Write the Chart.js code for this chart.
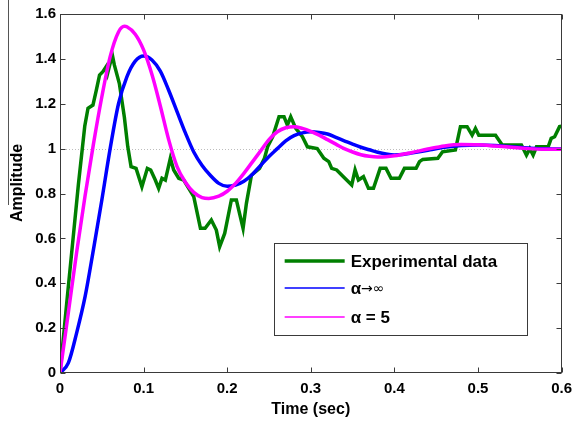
<!DOCTYPE html>
<html>
<head>
<meta charset="utf-8">
<script src="https://cdn.jsdelivr.net/npm/chart.js@4.4.1/dist/chart.umd.min.js"></script>
<style>
  html, body { margin: 0; padding: 0; background: #fff; }
  canvas { display: block; }
</style>
</head>
<body>
<canvas id="c" width="579" height="421"></canvas>
<script>
// Axis ticks
const xTicks = [0, 0.1, 0.2, 0.3, 0.4, 0.5, 0.6];
const xTickLabels = ['0', '0.1', '0.2', '0.3', '0.4', '0.5', '0.6'];
const yTicks = [0, 0.2, 0.4, 0.6, 0.8, 1, 1.2, 1.4, 1.6];
const yTickLabels = ['0', '0.2', '0.4', '0.6', '0.8', '1', '1.2', '1.4', '1.6'];
const refLevel = 1;

const seriesLabels = ['Experimental data', 'α→∞', 'α = 5'];

// Measured step response
const expTime = [0, 0.008, 0.022, 0.0296, 0.0335, 0.0394, 0.0434, 0.0473, 0.0513, 0.0552,
  0.057, 0.06, 0.063, 0.065, 0.071, 0.077, 0.081, 0.085, 0.091, 0.098,
  0.1045, 0.1085, 0.114, 0.118, 0.122, 0.126, 0.132, 0.136, 0.142, 0.148,
  0.154, 0.16, 0.168, 0.1736, 0.181, 0.187, 0.191, 0.197, 0.205, 0.211,
  0.219, 0.223, 0.229, 0.2387, 0.2446, 0.2485, 0.2544, 0.262, 0.268, 0.272,
  0.276, 0.282, 0.29, 0.296, 0.3077, 0.3156, 0.3215, 0.325, 0.331, 0.339,
  0.349, 0.353, 0.357, 0.363, 0.369, 0.375, 0.383, 0.39, 0.396, 0.406,
  0.412, 0.426, 0.43, 0.434, 0.452, 0.4576, 0.473, 0.479, 0.487, 0.493,
  0.497, 0.501, 0.521, 0.529, 0.552, 0.558, 0.562, 0.566, 0.57, 0.584,
  0.5876, 0.5917, 0.5976, 0.6];
const expAmp = [0, 0.31, 0.84, 1.10, 1.18, 1.194, 1.26, 1.328, 1.343, 1.365,
  1.336, 1.38, 1.41, 1.373, 1.29, 1.14, 1.01, 0.92, 0.912, 0.83,
  0.912, 0.905, 0.86, 0.823, 0.868, 0.86, 0.957, 0.905, 0.868, 0.86,
  0.823, 0.786, 0.645, 0.645, 0.682, 0.637, 0.563, 0.622, 0.771, 0.771,
  0.645, 0.756, 0.882, 0.912, 0.957, 1.01, 1.053, 1.142, 1.142, 1.105,
  1.142, 1.09, 1.053, 1.008, 1.0, 0.957, 0.942, 0.912, 0.905, 0.875,
  0.838, 0.905, 0.86, 0.875, 0.823, 0.823, 0.912, 0.912, 0.868, 0.868,
  0.912, 0.912, 0.942, 0.952, 0.957, 0.986, 0.994, 1.098, 1.098, 1.06,
  1.09, 1.06, 1.06, 1.016, 1.016, 0.971, 1.0, 0.971, 1.008, 1.008,
  1.046, 1.053, 1.098, 1.1];

// Model response, alpha -> infinity
const infTime = [0, 0.01, 0.02, 0.03, 0.04, 0.05, 0.06, 0.07, 0.08, 0.09,
  0.1, 0.11, 0.12, 0.13, 0.14, 0.15, 0.16, 0.17, 0.18, 0.19,
  0.2, 0.21, 0.22, 0.23, 0.24, 0.25, 0.26, 0.27, 0.28, 0.29,
  0.3, 0.31, 0.32, 0.33, 0.34, 0.35, 0.36, 0.37, 0.38, 0.39,
  0.4, 0.41, 0.42, 0.44, 0.46, 0.48, 0.5, 0.52, 0.54, 0.56, 0.58, 0.6];
const infAmp = [0, 0.045, 0.18, 0.34, 0.55, 0.77, 1.0, 1.2, 1.32, 1.39,
  1.413, 1.395, 1.345, 1.26, 1.165, 1.07, 0.985, 0.925, 0.88, 0.845,
  0.832, 0.838, 0.855, 0.885, 0.925, 0.965, 1.0, 1.035, 1.058, 1.07,
  1.075, 1.072, 1.065, 1.05, 1.035, 1.02, 1.006, 0.995, 0.984, 0.976,
  0.972, 0.974, 0.98, 0.993, 1.006, 1.014, 1.016, 1.014, 1.008, 1.003, 0.999, 0.998];

// Model response, alpha = 5
const a5Time = [0, 0.01, 0.02, 0.03, 0.04, 0.05, 0.06, 0.07, 0.077, 0.08,
  0.09, 0.1, 0.11, 0.12, 0.13, 0.14, 0.15, 0.16, 0.17, 0.178,
  0.19, 0.2, 0.21, 0.22, 0.23, 0.24, 0.25, 0.26, 0.27, 0.28,
  0.29, 0.3, 0.31, 0.32, 0.33, 0.34, 0.35, 0.36, 0.37, 0.38,
  0.39, 0.4, 0.42, 0.44, 0.46, 0.48, 0.5, 0.52, 0.54, 0.56, 0.58, 0.6];
const a5Amp = [0, 0.27, 0.54, 0.79, 1.02, 1.23, 1.41, 1.52, 1.545, 1.543,
  1.51, 1.44, 1.33, 1.19, 1.04, 0.92, 0.85, 0.805, 0.782, 0.778,
  0.788, 0.81, 0.845, 0.89, 0.94, 0.99, 1.04, 1.075, 1.093, 1.098,
  1.09, 1.077, 1.06, 1.04, 1.02, 1.0, 0.985, 0.973, 0.966, 0.963,
  0.964, 0.968, 0.982, 0.998, 1.012, 1.018, 1.017, 1.012, 1.006, 1.0, 0.997, 0.997];

const seriesColors = ['#007f00', '#0000ff', '#ff00ff'];

const toPoints = (ts, vs) => ts.map((t, i) => ({ x: t, y: vs[i] }));
const FONT = '"Liberation Sans", Arial, Helvetica, sans-serif';

function labelFor(ticks, labels) {
  return (v) => {
    const i = ticks.findIndex(t => Math.abs(t - v) < 1e-9);
    return i >= 0 ? labels[i] : '';
  };
}

// Frame, inward ticks, reference line, y title and legend box
const framePlugin = {
  id: 'frame',
  beforeDatasetsDraw(chart) {
    const { ctx, chartArea: a, scales: { y } } = chart;
    ctx.save();
    ctx.strokeStyle = '#bdbdbd';
    ctx.lineWidth = 1;
    ctx.setLineDash([1, 2]);
    const py = Math.round(y.getPixelForValue(refLevel)) + 0.5;
    ctx.beginPath();
    ctx.moveTo(a.left, py);
    ctx.lineTo(a.right, py);
    ctx.stroke();
    ctx.restore();
  },
  afterDatasetsDraw(chart) {
    const { ctx, chartArea: a, scales: { x, y } } = chart;
    ctx.save();
    ctx.strokeStyle = '#3a3a3a';
    ctx.lineWidth = 1;
    const L = Math.round(a.left) + 0.5, R = Math.round(a.right) - 0.5;
    const T = Math.round(a.top) + 0.5, B = Math.round(a.bottom) - 0.5;
    ctx.strokeRect(L, T, R - L, B - T);
    const tl = 5;
    ctx.beginPath();
    xTicks.forEach(v => {
      const px = Math.round(x.getPixelForValue(v)) + 0.5;
      ctx.moveTo(px, B); ctx.lineTo(px, B - tl);
      ctx.moveTo(px, T); ctx.lineTo(px, T + tl);
    });
    yTicks.forEach(v => {
      const py = Math.round(y.getPixelForValue(v)) + 0.5;
      ctx.moveTo(L, py); ctx.lineTo(L + tl, py);
      ctx.moveTo(R, py); ctx.lineTo(R - tl, py);
    });
    ctx.stroke();

    // thin rule at the far left edge
    ctx.strokeStyle = '#555';
    ctx.beginPath();
    ctx.moveTo(8.5, 0);
    ctx.lineTo(8.5, 205);
    ctx.stroke();

    // y axis title
    ctx.fillStyle = '#000';
    ctx.font = 'bold 16px ' + FONT;
    ctx.textAlign = 'center';
    ctx.textBaseline = 'middle';
    ctx.translate(18, 183);
    ctx.rotate(-Math.PI / 2);
    ctx.fillText('Amplitude', 0, 0);
    ctx.setTransform(1, 0, 0, 1, 0, 0);

    // legend
    const bx0 = a.left + 0.426 * (a.right - a.left);
    const bx1 = a.left + 0.931 * (a.right - a.left);
    const by0 = a.top + 0.638 * (a.bottom - a.top);
    const by1 = a.top + 0.894 * (a.bottom - a.top);
    ctx.fillStyle = '#fff';
    ctx.fillRect(bx0, by0, bx1 - bx0, by1 - by0);
    ctx.strokeStyle = '#3a3a3a';
    ctx.lineWidth = 1;
    ctx.strokeRect(Math.round(bx0) + 0.5, Math.round(by0) + 0.5,
      Math.round(bx1 - bx0), Math.round(by1 - by0));
    const rows = [18, 45, 74];
    const widths = [3.5, 1.5, 1.5];
    rows.forEach((dy, i) => {
      const ry = by0 + dy;
      ctx.strokeStyle = seriesColors[i];
      ctx.lineWidth = widths[i];
      ctx.beginPath();
      ctx.moveTo(bx0 + 11, ry);
      ctx.lineTo(bx0 + 71, ry);
      ctx.stroke();
      ctx.fillStyle = '#000';
      ctx.textAlign = 'left';
      ctx.textBaseline = 'middle';
      const tx = bx0 + 77;
      if (i === 1) {
        const label = seriesLabels[1];
        ctx.font = 'bold 17px ' + FONT;
        ctx.fillText(label[0], tx, ry + 1);
        const w = ctx.measureText(label[0]).width;
        ctx.font = '14px "DejaVu Sans", sans-serif';
        ctx.fillText(label.slice(1), tx + w, ry + 1);
      } else {
        ctx.font = 'bold 17px ' + FONT;
        ctx.fillText(seriesLabels[i], tx, ry + 1);
      }
    });
    ctx.restore();
  }
};

const lineStyle = (i) => ({
  borderColor: seriesColors[i],
  backgroundColor: seriesColors[i],
  borderWidth: 3.5,
  pointRadius: 0,
  fill: false
});

new Chart(document.getElementById('c'), {
  type: 'line',
  data: {
    datasets: [
      Object.assign({ label: seriesLabels[0], data: toPoints(expTime, expAmp), tension: 0, order: 2 }, lineStyle(0)),
      Object.assign({ label: seriesLabels[1], data: toPoints(infTime, infAmp), cubicInterpolationMode: 'monotone', order: 1 }, lineStyle(1)),
      Object.assign({ label: seriesLabels[2], data: toPoints(a5Time, a5Amp), cubicInterpolationMode: 'monotone', order: 0 }, lineStyle(2))
    ]
  },
  options: {
    responsive: false,
    animation: false,
    events: [],
    layout: { padding: { left: 0, top: 14, right: 12, bottom: 0 } },
    plugins: { legend: { display: false }, tooltip: { enabled: false } },
    scales: {
      x: {
        type: 'linear',
        min: 0, max: 0.6,
        afterBuildTicks: s => { s.ticks = xTicks.map(v => ({ value: v })); },
        afterFit: s => { s.height = 48; },
        grid: { display: false, drawTicks: false },
        border: { display: false },
        ticks: {
          padding: 7,
          color: '#000',
          maxRotation: 0,
          font: { family: FONT, size: 15, weight: 'bold' },
          callback: labelFor(xTicks, xTickLabels)
        },
        title: {
          display: true,
          text: 'Time (sec)',
          color: '#000',
          font: { family: FONT, size: 16, weight: 'bold' },
          padding: { top: 0, bottom: 2 }
        }
      },
      y: {
        type: 'linear',
        min: 0, max: 1.6,
        afterBuildTicks: s => { s.ticks = yTicks.map(v => ({ value: v })); },
        afterFit: s => { s.width = 60; },
        grid: { display: false, drawTicks: false },
        border: { display: false },
        ticks: {
          padding: 4,
          color: '#000',
          font: { family: FONT, size: 15, weight: 'bold' },
          callback: labelFor(yTicks, yTickLabels)
        }
      }
    }
  },
  plugins: [framePlugin]
});
</script>
</body>
</html>
